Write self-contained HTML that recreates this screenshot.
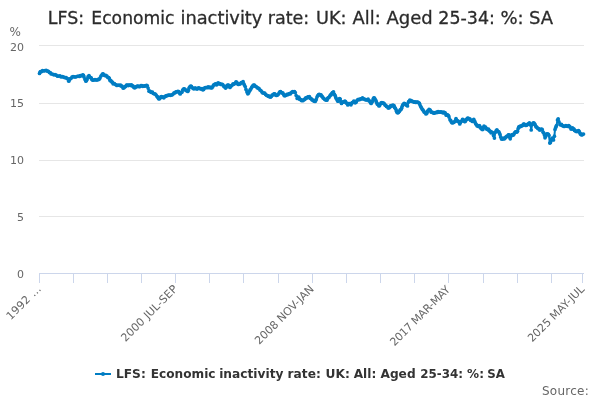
<!DOCTYPE html>
<html lang="en"><head><meta charset="utf-8"><title>LFS: Economic inactivity rate: UK: All: Aged 25-34: %: SA</title>
<style>
html,body{margin:0;padding:0;background:#fff;}
body{width:600px;height:400px;overflow:hidden;font-family:"DejaVu Sans","Liberation Sans",sans-serif;}
svg{display:block;font-family:"DejaVu Sans","Liberation Sans",sans-serif;}
.ax text{font-size:11px;fill:#666666;}
</style></head><body>
<svg width="600" height="400" viewBox="0 0 600 400">
<rect x="0" y="0" width="600" height="400" fill="#FFFFFF"/>
<g><path d="M 39.0 45.5 L 584.0 45.5" stroke="#E6E6E6" stroke-width="1" fill="none"/><path d="M 39.0 103.5 L 584.0 103.5" stroke="#E6E6E6" stroke-width="1" fill="none"/><path d="M 39.0 160.5 L 584.0 160.5" stroke="#E6E6E6" stroke-width="1" fill="none"/><path d="M 39.0 216.5 L 584.0 216.5" stroke="#E6E6E6" stroke-width="1" fill="none"/></g>
<path d="M 39 273.5 L 584 273.5" stroke="#CCD6EB" stroke-width="1" fill="none"/>
<g><path d="M 39.5 273 L 39.5 283" stroke="#CCD6EB" stroke-width="1" fill="none"/><path d="M 73.5 273 L 73.5 283" stroke="#CCD6EB" stroke-width="1" fill="none"/><path d="M 107.5 273 L 107.5 283" stroke="#CCD6EB" stroke-width="1" fill="none"/><path d="M 141.5 273 L 141.5 283" stroke="#CCD6EB" stroke-width="1" fill="none"/><path d="M 175.5 273 L 175.5 283" stroke="#CCD6EB" stroke-width="1" fill="none"/><path d="M 209.5 273 L 209.5 283" stroke="#CCD6EB" stroke-width="1" fill="none"/><path d="M 243.5 273 L 243.5 283" stroke="#CCD6EB" stroke-width="1" fill="none"/><path d="M 278.5 273 L 278.5 283" stroke="#CCD6EB" stroke-width="1" fill="none"/><path d="M 312.5 273 L 312.5 283" stroke="#CCD6EB" stroke-width="1" fill="none"/><path d="M 346.5 273 L 346.5 283" stroke="#CCD6EB" stroke-width="1" fill="none"/><path d="M 380.5 273 L 380.5 283" stroke="#CCD6EB" stroke-width="1" fill="none"/><path d="M 414.5 273 L 414.5 283" stroke="#CCD6EB" stroke-width="1" fill="none"/><path d="M 448.5 273 L 448.5 283" stroke="#CCD6EB" stroke-width="1" fill="none"/><path d="M 483.5 273 L 483.5 283" stroke="#CCD6EB" stroke-width="1" fill="none"/><path d="M 517.5 273 L 517.5 283" stroke="#CCD6EB" stroke-width="1" fill="none"/><path d="M 551.5 273 L 551.5 283" stroke="#CCD6EB" stroke-width="1" fill="none"/><path d="M 582.5 273 L 582.5 283" stroke="#CCD6EB" stroke-width="1" fill="none"/></g>
<g fill="none" stroke="#007DC3" stroke-width="2" stroke-linejoin="round" stroke-linecap="round"><path d="M 39.5 73.4 L 40.1 72.1 L 40.6 71.5 L 41.6 71.6 L 42.5 70.6 L 43.8 71.0 L 45.0 70.6 L 46.2 70.4 L 47.5 71.2 L 48.4 71.3 L 49.4 72.5 L 50.3 72.7 L 51.2 74.0 L 52.5 74.0 L 53.8 74.8 L 55.0 74.5 L 56.2 75.2 L 57.5 76.2 L 58.8 76.0 L 60.0 75.9 L 61.2 76.9 L 62.5 76.5 L 63.8 77.2 L 65.0 77.7 L 66.2 77.5 L 67.0 78.5 L 67.8 78.8 L 68.8 81.2 L 69.4 79.5 L 70.0 78.8 L 70.9 78.5 L 71.9 77.2 L 73.1 76.5 L 74.4 76.9 L 75.6 77.0 L 76.9 76.5 L 78.1 76.0 L 79.4 76.5 L 80.3 75.5 L 81.2 75.6 L 82.0 75.7 L 82.8 74.8 L 83.4 75.3 L 84.0 76.9 L 85.0 79.4 L 85.9 81.2 L 86.6 80.3 L 87.2 78.8 L 88.1 76.6 L 89.0 75.6 L 89.8 77.1 L 90.6 77.5 L 91.2 77.9 L 91.9 79.4 L 92.8 80.2 L 93.8 80.0 L 95.0 79.7 L 96.2 80.0 L 97.2 80.0 L 98.1 79.4 L 99.1 79.3 L 100.0 78.1 L 100.9 76.0 L 101.9 75.0 L 102.5 74.0 L 103.1 73.8 L 104.1 75.2 L 105.0 75.6 L 105.9 75.4 L 106.9 76.2 L 107.8 77.4 L 108.8 77.5 L 109.4 78.7 L 110.0 80.6 L 110.9 80.7 L 111.9 81.9 L 112.5 82.3 L 113.1 83.8 L 114.4 83.6 L 115.6 84.6 L 116.9 85.4 L 118.1 85.0 L 119.4 85.3 L 120.6 85.0 L 121.2 86.0 L 121.9 86.2 L 122.5 86.8 L 123.1 88.1 L 123.9 87.8 L 124.8 86.9 L 125.6 86.3 L 126.5 85.0 L 127.3 85.0 L 128.1 85.6 L 128.9 85.0 L 129.6 85.0 L 130.6 85.4 L 131.5 84.8 L 132.3 85.9 L 133.1 86.0 L 133.9 87.4 L 134.8 87.8 L 135.5 86.8 L 136.2 86.9 L 137.2 86.2 L 138.1 86.2 L 139.1 86.7 L 140.0 86.5 L 140.9 85.7 L 141.9 85.6 L 142.8 86.3 L 143.8 86.2 L 144.7 85.8 L 145.6 86.0 L 146.4 85.3 L 147.2 85.6 L 148.1 88.1 L 149.0 91.2 L 149.8 91.0 L 150.6 91.9 L 151.6 92.4 L 152.5 92.2 L 153.4 93.5 L 154.4 93.8 L 155.3 94.0 L 156.2 95.0 L 157.0 96.5 L 157.8 96.9 L 158.4 98.3 L 159.0 99.0 L 159.8 98.5 L 160.6 97.2 L 161.4 96.7 L 162.2 97.2 L 163.0 97.0 L 163.8 97.8 L 164.7 96.7 L 165.6 96.2 L 166.6 95.6 L 167.5 95.6 L 168.4 95.0 L 169.4 95.0 L 170.3 95.3 L 171.2 95.0 L 172.2 94.8 L 173.1 94.0 L 174.1 92.8 L 175.0 92.8 L 175.9 91.8 L 176.9 91.9 L 177.8 91.3 L 178.8 91.5 L 179.5 93.1 L 180.2 94.0 L 181.1 92.6 L 181.9 92.2 L 182.7 90.1 L 183.5 89.0 L 184.2 88.8 L 185.0 89.4 L 185.8 90.3 L 186.5 90.6 L 187.1 90.7 L 187.8 91.5 L 188.4 90.2 L 189.0 88.1 L 189.8 86.8 L 190.6 86.2 L 191.4 86.3 L 192.2 87.5 L 193.1 88.5 L 194.0 88.8 L 194.8 88.1 L 195.6 88.1 L 196.6 89.0 L 197.5 88.8 L 198.4 87.9 L 199.4 88.1 L 200.3 88.8 L 201.2 88.8 L 202.0 88.7 L 202.8 89.8 L 203.6 89.5 L 204.4 88.1 L 205.3 87.5 L 206.2 87.5 L 207.2 87.7 L 208.1 86.9 L 209.1 87.6 L 210.0 87.2 L 210.9 87.8 L 211.9 87.8 L 212.7 86.7 L 213.5 85.0 L 214.2 84.8 L 215.0 84.0 L 215.8 83.8 L 216.5 84.8 L 217.3 84.3 L 218.1 82.8 L 218.9 83.5 L 219.8 83.5 L 220.6 84.3 L 221.5 84.4 L 222.3 84.3 L 223.1 85.0 L 223.9 86.5 L 224.8 86.9 L 225.6 88.1 L 226.2 87.2 L 226.9 85.6 L 227.7 85.0 L 228.5 85.0 L 229.2 86.6 L 230.0 87.5 L 230.8 86.2 L 231.5 85.6 L 232.3 85.0 L 233.1 83.8 L 233.9 84.2 L 234.8 83.5 L 235.4 83.2 L 236.0 81.9 L 236.8 82.3 L 237.5 83.8 L 238.4 84.4 L 239.4 84.0 L 240.3 83.8 L 241.2 82.5 L 242.2 82.5 L 243.1 81.5 L 243.8 83.8 L 244.4 85.0 L 245.2 86.6 L 246.0 89.4 L 246.9 91.9 L 247.8 93.8 L 248.6 93.0 L 249.4 91.2 L 250.2 89.7 L 251.0 88.8 L 251.8 87.2 L 252.5 86.2 L 253.4 85.1 L 254.4 85.0 L 255.3 86.3 L 256.2 86.5 L 257.2 87.7 L 258.1 88.1 L 259.1 88.7 L 260.0 90.0 L 260.9 90.6 L 261.9 91.9 L 262.8 93.0 L 263.8 93.1 L 264.7 93.2 L 265.6 94.4 L 266.6 95.3 L 267.5 95.6 L 268.4 96.3 L 269.4 96.2 L 270.0 96.9 L 270.6 96.9 L 271.4 96.3 L 272.2 95.0 L 273.1 94.7 L 274.0 93.8 L 274.8 93.8 L 275.6 95.0 L 276.4 95.5 L 277.2 95.2 L 278.1 94.5 L 279.0 93.1 L 279.8 91.8 L 280.6 91.5 L 281.4 92.7 L 282.2 92.8 L 283.0 93.2 L 283.8 94.8 L 284.4 95.7 L 285.0 95.6 L 285.9 95.3 L 286.9 94.4 L 287.7 94.7 L 288.5 94.0 L 289.4 93.5 L 290.2 94.0 L 291.1 92.8 L 291.9 92.2 L 292.8 91.5 L 293.8 91.9 L 294.5 91.6 L 295.2 92.5 L 296.2 95.6 L 297.2 98.5 L 298.0 97.3 L 298.8 97.2 L 299.4 98.9 L 300.0 99.4 L 300.8 99.5 L 301.5 100.6 L 302.3 100.3 L 303.1 100.6 L 303.9 99.5 L 304.8 99.4 L 305.5 98.0 L 306.2 97.8 L 307.0 97.9 L 307.8 96.9 L 308.6 97.0 L 309.4 96.5 L 310.0 98.0 L 310.6 98.5 L 311.4 98.9 L 312.2 100.0 L 313.0 100.2 L 313.8 101.0 L 314.4 100.9 L 315.0 101.5 L 315.6 100.8 L 316.2 99.4 L 317.0 97.0 L 317.8 95.6 L 318.6 94.5 L 319.4 94.4 L 320.2 94.9 L 321.0 94.8 L 321.8 96.2 L 322.5 96.9 L 323.2 98.0 L 324.0 98.5 L 324.8 99.5 L 325.6 99.8 L 326.2 99.7 L 326.9 100.2 L 327.5 98.5 L 328.1 97.8 L 328.9 97.4 L 329.8 96.0 L 330.5 94.8 L 331.2 94.8 L 331.9 93.3 L 332.5 92.5 L 333.5 91.9 L 334.4 94.4 L 335.0 95.3 L 335.6 96.9 L 336.2 98.5 L 336.9 99.4 L 337.8 101.2 L 338.4 100.9 L 339.0 99.4 L 339.6 98.6 L 340.2 99.0 L 340.9 101.8 L 341.5 103.5 L 342.3 102.3 L 343.1 101.9 L 343.9 102.1 L 344.8 101.2 L 345.5 101.5 L 346.2 102.8 L 347.0 103.5 L 347.8 105.0 L 348.6 103.7 L 349.4 103.5 L 350.2 103.8 L 351.0 104.8 L 351.6 103.3 L 352.2 102.5 L 353.0 102.4 L 353.8 101.2 L 354.5 101.7 L 355.2 102.8 L 356.1 102.2 L 356.9 100.6 L 357.8 99.7 L 358.8 99.4 L 359.7 99.6 L 360.6 98.8 L 361.6 98.8 L 362.5 97.8 L 363.4 98.9 L 364.4 99.0 L 365.3 99.7 L 366.2 99.8 L 367.2 99.9 L 368.1 99.0 L 368.9 100.7 L 369.8 101.2 L 370.5 102.7 L 371.2 103.5 L 371.9 102.0 L 372.5 101.2 L 373.1 99.0 L 373.8 97.8 L 374.5 98.0 L 375.2 99.4 L 375.9 100.5 L 376.5 102.2 L 377.1 103.7 L 377.8 104.4 L 378.4 104.8 L 379.0 106.0 L 379.6 105.5 L 380.2 104.0 L 381.1 102.9 L 381.9 102.5 L 382.7 103.2 L 383.5 103.1 L 384.2 103.7 L 385.0 105.0 L 385.8 105.4 L 386.5 106.5 L 387.3 106.6 L 388.1 107.8 L 388.9 108.0 L 389.8 107.2 L 390.5 105.9 L 391.2 105.6 L 392.0 105.9 L 392.8 105.0 L 393.4 105.7 L 394.0 105.6 L 394.6 107.4 L 395.2 108.1 L 395.9 109.3 L 396.5 111.2 L 397.1 112.5 L 397.8 112.8 L 398.6 112.3 L 399.4 111.2 L 400.2 109.8 L 401.0 109.4 L 401.6 108.2 L 402.2 106.2 L 402.9 104.8 L 403.5 104.0 L 404.2 103.3 L 405.0 103.8 L 405.8 104.0 L 406.5 105.2 L 407.5 106.0 L 408.5 101.9 L 409.1 101.4 L 409.8 100.2 L 410.5 101.0 L 411.2 100.6 L 412.2 101.4 L 413.1 101.5 L 414.1 102.2 L 415.0 101.9 L 415.9 102.4 L 416.9 102.2 L 417.8 102.2 L 418.8 102.8 L 419.4 103.3 L 420.0 105.0 L 420.8 106.7 L 421.5 107.8 L 422.3 109.3 L 423.1 110.2 L 423.9 111.7 L 424.8 112.5 L 425.4 112.7 L 426.0 114.0 L 426.8 113.2 L 427.5 111.2 L 428.2 110.9 L 429.0 109.4 L 429.6 110.2 L 430.2 110.0 L 431.2 112.2 L 432.2 112.0 L 433.1 112.8 L 434.1 113.2 L 435.0 112.5 L 435.9 112.7 L 436.9 112.2 L 437.5 112.4 L 438.1 111.5 L 439.1 112.2 L 440.0 112.2 L 440.9 111.9 L 441.9 112.2 L 442.8 112.8 L 443.8 112.2 L 444.5 113.0 L 445.2 112.8 L 446.2 115.2 L 447.0 114.7 L 447.8 115.2 L 448.4 115.5 L 449.0 116.9 L 450.0 119.8 L 450.8 120.5 L 451.5 122.2 L 452.3 122.9 L 453.1 122.5 L 453.9 122.3 L 454.8 121.5 L 455.4 120.5 L 456.0 118.5 L 456.8 120.4 L 457.5 121.2 L 458.1 121.0 L 458.8 121.9 L 459.8 124.0 L 460.4 122.4 L 461.0 121.5 L 461.8 121.0 L 462.5 119.4 L 463.2 119.7 L 464.0 120.6 L 464.6 121.6 L 465.2 121.5 L 465.9 120.1 L 466.5 119.4 L 467.3 118.4 L 468.1 118.1 L 468.9 118.8 L 469.8 118.8 L 470.5 120.2 L 471.2 120.6 L 471.9 120.5 L 472.5 121.5 L 473.1 120.1 L 473.8 119.4 L 474.4 121.0 L 475.0 121.9 L 475.6 123.5 L 476.2 124.4 L 477.0 125.7 L 477.8 126.0 L 478.4 126.4 L 479.0 125.6 L 479.6 125.9 L 480.2 127.2 L 480.9 128.2 L 481.5 128.5 L 482.1 129.5 L 482.8 129.4 L 483.4 127.3 L 484.0 126.2 L 484.8 127.3 L 485.6 127.2 L 486.2 128.7 L 486.9 129.0 L 487.7 129.6 L 488.5 129.0 L 489.1 130.5 L 489.8 131.2 L 490.4 131.4 L 491.0 132.8 L 491.8 132.1 L 492.5 132.5 L 493.5 135.6 L 494.4 138.1 L 495.2 132.5 L 496.1 130.8 L 496.9 129.8 L 497.5 131.0 L 498.1 131.5 L 498.8 131.8 L 499.4 133.1 L 500.0 134.4 L 500.6 136.9 L 501.5 139.0 L 502.3 139.1 L 503.1 138.1 L 503.9 138.9 L 504.8 138.5 L 505.5 137.3 L 506.2 136.9 L 507.0 136.0 L 507.8 136.2 L 508.4 134.9 L 509.0 134.8 L 509.6 137.1 L 510.2 138.8 L 510.9 136.3 L 511.5 135.0 L 512.3 134.6 L 513.1 135.2 L 513.9 134.2 L 514.8 132.5 L 515.5 131.8 L 516.2 131.9 L 516.9 132.1 L 517.5 131.2 L 518.1 128.7 L 518.8 126.9 L 519.5 126.9 L 520.2 126.2 L 521.1 126.3 L 521.9 125.6 L 522.7 125.4 L 523.5 124.0 L 524.2 124.0 L 525.0 124.8 L 525.8 125.4 L 526.5 125.0 L 527.1 124.8 L 527.8 124.0 L 528.6 123.9 L 529.4 122.8 L 530.0 124.2 L 530.6 125.0 L 531.2 130.0 L 532.2 124.4 L 533.0 123.0 L 533.8 122.8 L 534.4 123.9 L 535.0 124.4 L 535.6 126.0 L 536.2 126.9 L 537.0 127.3 L 537.8 128.5 L 538.6 128.6 L 539.4 129.8 L 540.2 129.9 L 541.0 129.0 L 541.6 129.5 L 542.2 129.4 L 543.1 132.2 L 543.8 133.1 L 544.4 135.0 L 545.0 137.8 L 545.6 136.6 L 546.2 134.4 L 547.0 133.8 L 547.8 134.0 L 548.4 134.3 L 549.0 135.6 L 549.8 143.1 L 550.4 142.4 L 551.0 140.6 L 551.6 139.0 L 552.2 138.1 L 552.9 139.6 L 553.5 140.0 L 554.4 136.2 L 555.0 129.4 L 555.8 127.2 L 556.5 125.6 L 557.5 120.0 L 558.2 118.8 L 559.0 121.9 L 560.0 124.4 L 560.8 124.9 L 561.5 124.4 L 562.3 125.5 L 563.1 126.0 L 564.1 126.5 L 565.0 126.0 L 565.9 125.6 L 566.9 126.2 L 567.8 126.3 L 568.8 125.6 L 569.4 126.6 L 570.0 126.9 L 571.0 129.0 L 571.8 128.9 L 572.5 127.8 L 573.2 128.9 L 574.0 129.0 L 574.6 130.4 L 575.2 130.6 L 576.1 131.4 L 576.9 131.5 L 577.7 131.4 L 578.5 130.6 L 579.1 131.3 L 579.8 132.8 L 580.4 133.9 L 581.0 134.4 L 581.8 134.9 L 582.5 134.4 L 583.5 134.0"/></g>
<g fill="#007DC3"><circle cx="39.5" cy="73.4" r="1.85"/><circle cx="40.1" cy="72.1" r="1.85"/><circle cx="40.6" cy="71.5" r="1.85"/><circle cx="41.6" cy="71.6" r="1.85"/><circle cx="42.5" cy="70.6" r="1.85"/><circle cx="43.8" cy="71.0" r="1.85"/><circle cx="45.0" cy="70.6" r="1.85"/><circle cx="46.2" cy="70.4" r="1.85"/><circle cx="47.5" cy="71.2" r="1.85"/><circle cx="48.4" cy="71.3" r="1.85"/><circle cx="49.4" cy="72.5" r="1.85"/><circle cx="50.3" cy="72.7" r="1.85"/><circle cx="51.2" cy="74.0" r="1.85"/><circle cx="52.5" cy="74.0" r="1.85"/><circle cx="53.8" cy="74.8" r="1.85"/><circle cx="55.0" cy="74.5" r="1.85"/><circle cx="56.2" cy="75.2" r="1.85"/><circle cx="57.5" cy="76.2" r="1.85"/><circle cx="58.8" cy="76.0" r="1.85"/><circle cx="60.0" cy="75.9" r="1.85"/><circle cx="61.2" cy="76.9" r="1.85"/><circle cx="62.5" cy="76.5" r="1.85"/><circle cx="63.8" cy="77.2" r="1.85"/><circle cx="65.0" cy="77.7" r="1.85"/><circle cx="66.2" cy="77.5" r="1.85"/><circle cx="67.0" cy="78.5" r="1.85"/><circle cx="67.8" cy="78.8" r="1.85"/><circle cx="68.8" cy="81.2" r="1.85"/><circle cx="69.4" cy="79.5" r="1.85"/><circle cx="70.0" cy="78.8" r="1.85"/><circle cx="70.9" cy="78.5" r="1.85"/><circle cx="71.9" cy="77.2" r="1.85"/><circle cx="73.1" cy="76.5" r="1.85"/><circle cx="74.4" cy="76.9" r="1.85"/><circle cx="75.6" cy="77.0" r="1.85"/><circle cx="76.9" cy="76.5" r="1.85"/><circle cx="78.1" cy="76.0" r="1.85"/><circle cx="79.4" cy="76.5" r="1.85"/><circle cx="80.3" cy="75.5" r="1.85"/><circle cx="81.2" cy="75.6" r="1.85"/><circle cx="82.0" cy="75.7" r="1.85"/><circle cx="82.8" cy="74.8" r="1.85"/><circle cx="83.4" cy="75.3" r="1.85"/><circle cx="84.0" cy="76.9" r="1.85"/><circle cx="85.0" cy="79.4" r="1.85"/><circle cx="85.9" cy="81.2" r="1.85"/><circle cx="86.6" cy="80.3" r="1.85"/><circle cx="87.2" cy="78.8" r="1.85"/><circle cx="88.1" cy="76.6" r="1.85"/><circle cx="89.0" cy="75.6" r="1.85"/><circle cx="89.8" cy="77.1" r="1.85"/><circle cx="90.6" cy="77.5" r="1.85"/><circle cx="91.2" cy="77.9" r="1.85"/><circle cx="91.9" cy="79.4" r="1.85"/><circle cx="92.8" cy="80.2" r="1.85"/><circle cx="93.8" cy="80.0" r="1.85"/><circle cx="95.0" cy="79.7" r="1.85"/><circle cx="96.2" cy="80.0" r="1.85"/><circle cx="97.2" cy="80.0" r="1.85"/><circle cx="98.1" cy="79.4" r="1.85"/><circle cx="99.1" cy="79.3" r="1.85"/><circle cx="100.0" cy="78.1" r="1.85"/><circle cx="100.9" cy="76.0" r="1.85"/><circle cx="101.9" cy="75.0" r="1.85"/><circle cx="102.5" cy="74.0" r="1.85"/><circle cx="103.1" cy="73.8" r="1.85"/><circle cx="104.1" cy="75.2" r="1.85"/><circle cx="105.0" cy="75.6" r="1.85"/><circle cx="105.9" cy="75.4" r="1.85"/><circle cx="106.9" cy="76.2" r="1.85"/><circle cx="107.8" cy="77.4" r="1.85"/><circle cx="108.8" cy="77.5" r="1.85"/><circle cx="109.4" cy="78.7" r="1.85"/><circle cx="110.0" cy="80.6" r="1.85"/><circle cx="110.9" cy="80.7" r="1.85"/><circle cx="111.9" cy="81.9" r="1.85"/><circle cx="112.5" cy="82.3" r="1.85"/><circle cx="113.1" cy="83.8" r="1.85"/><circle cx="114.4" cy="83.6" r="1.85"/><circle cx="115.6" cy="84.6" r="1.85"/><circle cx="116.9" cy="85.4" r="1.85"/><circle cx="118.1" cy="85.0" r="1.85"/><circle cx="119.4" cy="85.3" r="1.85"/><circle cx="120.6" cy="85.0" r="1.85"/><circle cx="121.2" cy="86.0" r="1.85"/><circle cx="121.9" cy="86.2" r="1.85"/><circle cx="122.5" cy="86.8" r="1.85"/><circle cx="123.1" cy="88.1" r="1.85"/><circle cx="123.9" cy="87.8" r="1.85"/><circle cx="124.8" cy="86.9" r="1.85"/><circle cx="125.6" cy="86.3" r="1.85"/><circle cx="126.5" cy="85.0" r="1.85"/><circle cx="127.3" cy="85.0" r="1.85"/><circle cx="128.1" cy="85.6" r="1.85"/><circle cx="128.9" cy="85.0" r="1.85"/><circle cx="129.6" cy="85.0" r="1.85"/><circle cx="130.6" cy="85.4" r="1.85"/><circle cx="131.5" cy="84.8" r="1.85"/><circle cx="132.3" cy="85.9" r="1.85"/><circle cx="133.1" cy="86.0" r="1.85"/><circle cx="133.9" cy="87.4" r="1.85"/><circle cx="134.8" cy="87.8" r="1.85"/><circle cx="135.5" cy="86.8" r="1.85"/><circle cx="136.2" cy="86.9" r="1.85"/><circle cx="137.2" cy="86.2" r="1.85"/><circle cx="138.1" cy="86.2" r="1.85"/><circle cx="139.1" cy="86.7" r="1.85"/><circle cx="140.0" cy="86.5" r="1.85"/><circle cx="140.9" cy="85.7" r="1.85"/><circle cx="141.9" cy="85.6" r="1.85"/><circle cx="142.8" cy="86.3" r="1.85"/><circle cx="143.8" cy="86.2" r="1.85"/><circle cx="144.7" cy="85.8" r="1.85"/><circle cx="145.6" cy="86.0" r="1.85"/><circle cx="146.4" cy="85.3" r="1.85"/><circle cx="147.2" cy="85.6" r="1.85"/><circle cx="148.1" cy="88.1" r="1.85"/><circle cx="149.0" cy="91.2" r="1.85"/><circle cx="149.8" cy="91.0" r="1.85"/><circle cx="150.6" cy="91.9" r="1.85"/><circle cx="151.6" cy="92.4" r="1.85"/><circle cx="152.5" cy="92.2" r="1.85"/><circle cx="153.4" cy="93.5" r="1.85"/><circle cx="154.4" cy="93.8" r="1.85"/><circle cx="155.3" cy="94.0" r="1.85"/><circle cx="156.2" cy="95.0" r="1.85"/><circle cx="157.0" cy="96.5" r="1.85"/><circle cx="157.8" cy="96.9" r="1.85"/><circle cx="158.4" cy="98.3" r="1.85"/><circle cx="159.0" cy="99.0" r="1.85"/><circle cx="159.8" cy="98.5" r="1.85"/><circle cx="160.6" cy="97.2" r="1.85"/><circle cx="161.4" cy="96.7" r="1.85"/><circle cx="162.2" cy="97.2" r="1.85"/><circle cx="163.0" cy="97.0" r="1.85"/><circle cx="163.8" cy="97.8" r="1.85"/><circle cx="164.7" cy="96.7" r="1.85"/><circle cx="165.6" cy="96.2" r="1.85"/><circle cx="166.6" cy="95.6" r="1.85"/><circle cx="167.5" cy="95.6" r="1.85"/><circle cx="168.4" cy="95.0" r="1.85"/><circle cx="169.4" cy="95.0" r="1.85"/><circle cx="170.3" cy="95.3" r="1.85"/><circle cx="171.2" cy="95.0" r="1.85"/><circle cx="172.2" cy="94.8" r="1.85"/><circle cx="173.1" cy="94.0" r="1.85"/><circle cx="174.1" cy="92.8" r="1.85"/><circle cx="175.0" cy="92.8" r="1.85"/><circle cx="175.9" cy="91.8" r="1.85"/><circle cx="176.9" cy="91.9" r="1.85"/><circle cx="177.8" cy="91.3" r="1.85"/><circle cx="178.8" cy="91.5" r="1.85"/><circle cx="179.5" cy="93.1" r="1.85"/><circle cx="180.2" cy="94.0" r="1.85"/><circle cx="181.1" cy="92.6" r="1.85"/><circle cx="181.9" cy="92.2" r="1.85"/><circle cx="182.7" cy="90.1" r="1.85"/><circle cx="183.5" cy="89.0" r="1.85"/><circle cx="184.2" cy="88.8" r="1.85"/><circle cx="185.0" cy="89.4" r="1.85"/><circle cx="185.8" cy="90.3" r="1.85"/><circle cx="186.5" cy="90.6" r="1.85"/><circle cx="187.1" cy="90.7" r="1.85"/><circle cx="187.8" cy="91.5" r="1.85"/><circle cx="188.4" cy="90.2" r="1.85"/><circle cx="189.0" cy="88.1" r="1.85"/><circle cx="189.8" cy="86.8" r="1.85"/><circle cx="190.6" cy="86.2" r="1.85"/><circle cx="191.4" cy="86.3" r="1.85"/><circle cx="192.2" cy="87.5" r="1.85"/><circle cx="193.1" cy="88.5" r="1.85"/><circle cx="194.0" cy="88.8" r="1.85"/><circle cx="194.8" cy="88.1" r="1.85"/><circle cx="195.6" cy="88.1" r="1.85"/><circle cx="196.6" cy="89.0" r="1.85"/><circle cx="197.5" cy="88.8" r="1.85"/><circle cx="198.4" cy="87.9" r="1.85"/><circle cx="199.4" cy="88.1" r="1.85"/><circle cx="200.3" cy="88.8" r="1.85"/><circle cx="201.2" cy="88.8" r="1.85"/><circle cx="202.0" cy="88.7" r="1.85"/><circle cx="202.8" cy="89.8" r="1.85"/><circle cx="203.6" cy="89.5" r="1.85"/><circle cx="204.4" cy="88.1" r="1.85"/><circle cx="205.3" cy="87.5" r="1.85"/><circle cx="206.2" cy="87.5" r="1.85"/><circle cx="207.2" cy="87.7" r="1.85"/><circle cx="208.1" cy="86.9" r="1.85"/><circle cx="209.1" cy="87.6" r="1.85"/><circle cx="210.0" cy="87.2" r="1.85"/><circle cx="210.9" cy="87.8" r="1.85"/><circle cx="211.9" cy="87.8" r="1.85"/><circle cx="212.7" cy="86.7" r="1.85"/><circle cx="213.5" cy="85.0" r="1.85"/><circle cx="214.2" cy="84.8" r="1.85"/><circle cx="215.0" cy="84.0" r="1.85"/><circle cx="215.8" cy="83.8" r="1.85"/><circle cx="216.5" cy="84.8" r="1.85"/><circle cx="217.3" cy="84.3" r="1.85"/><circle cx="218.1" cy="82.8" r="1.85"/><circle cx="218.9" cy="83.5" r="1.85"/><circle cx="219.8" cy="83.5" r="1.85"/><circle cx="220.6" cy="84.3" r="1.85"/><circle cx="221.5" cy="84.4" r="1.85"/><circle cx="222.3" cy="84.3" r="1.85"/><circle cx="223.1" cy="85.0" r="1.85"/><circle cx="223.9" cy="86.5" r="1.85"/><circle cx="224.8" cy="86.9" r="1.85"/><circle cx="225.6" cy="88.1" r="1.85"/><circle cx="226.2" cy="87.2" r="1.85"/><circle cx="226.9" cy="85.6" r="1.85"/><circle cx="227.7" cy="85.0" r="1.85"/><circle cx="228.5" cy="85.0" r="1.85"/><circle cx="229.2" cy="86.6" r="1.85"/><circle cx="230.0" cy="87.5" r="1.85"/><circle cx="230.8" cy="86.2" r="1.85"/><circle cx="231.5" cy="85.6" r="1.85"/><circle cx="232.3" cy="85.0" r="1.85"/><circle cx="233.1" cy="83.8" r="1.85"/><circle cx="233.9" cy="84.2" r="1.85"/><circle cx="234.8" cy="83.5" r="1.85"/><circle cx="235.4" cy="83.2" r="1.85"/><circle cx="236.0" cy="81.9" r="1.85"/><circle cx="236.8" cy="82.3" r="1.85"/><circle cx="237.5" cy="83.8" r="1.85"/><circle cx="238.4" cy="84.4" r="1.85"/><circle cx="239.4" cy="84.0" r="1.85"/><circle cx="240.3" cy="83.8" r="1.85"/><circle cx="241.2" cy="82.5" r="1.85"/><circle cx="242.2" cy="82.5" r="1.85"/><circle cx="243.1" cy="81.5" r="1.85"/><circle cx="243.8" cy="83.8" r="1.85"/><circle cx="244.4" cy="85.0" r="1.85"/><circle cx="245.2" cy="86.6" r="1.85"/><circle cx="246.0" cy="89.4" r="1.85"/><circle cx="246.9" cy="91.9" r="1.85"/><circle cx="247.8" cy="93.8" r="1.85"/><circle cx="248.6" cy="93.0" r="1.85"/><circle cx="249.4" cy="91.2" r="1.85"/><circle cx="250.2" cy="89.7" r="1.85"/><circle cx="251.0" cy="88.8" r="1.85"/><circle cx="251.8" cy="87.2" r="1.85"/><circle cx="252.5" cy="86.2" r="1.85"/><circle cx="253.4" cy="85.1" r="1.85"/><circle cx="254.4" cy="85.0" r="1.85"/><circle cx="255.3" cy="86.3" r="1.85"/><circle cx="256.2" cy="86.5" r="1.85"/><circle cx="257.2" cy="87.7" r="1.85"/><circle cx="258.1" cy="88.1" r="1.85"/><circle cx="259.1" cy="88.7" r="1.85"/><circle cx="260.0" cy="90.0" r="1.85"/><circle cx="260.9" cy="90.6" r="1.85"/><circle cx="261.9" cy="91.9" r="1.85"/><circle cx="262.8" cy="93.0" r="1.85"/><circle cx="263.8" cy="93.1" r="1.85"/><circle cx="264.7" cy="93.2" r="1.85"/><circle cx="265.6" cy="94.4" r="1.85"/><circle cx="266.6" cy="95.3" r="1.85"/><circle cx="267.5" cy="95.6" r="1.85"/><circle cx="268.4" cy="96.3" r="1.85"/><circle cx="269.4" cy="96.2" r="1.85"/><circle cx="270.0" cy="96.9" r="1.85"/><circle cx="270.6" cy="96.9" r="1.85"/><circle cx="271.4" cy="96.3" r="1.85"/><circle cx="272.2" cy="95.0" r="1.85"/><circle cx="273.1" cy="94.7" r="1.85"/><circle cx="274.0" cy="93.8" r="1.85"/><circle cx="274.8" cy="93.8" r="1.85"/><circle cx="275.6" cy="95.0" r="1.85"/><circle cx="276.4" cy="95.5" r="1.85"/><circle cx="277.2" cy="95.2" r="1.85"/><circle cx="278.1" cy="94.5" r="1.85"/><circle cx="279.0" cy="93.1" r="1.85"/><circle cx="279.8" cy="91.8" r="1.85"/><circle cx="280.6" cy="91.5" r="1.85"/><circle cx="281.4" cy="92.7" r="1.85"/><circle cx="282.2" cy="92.8" r="1.85"/><circle cx="283.0" cy="93.2" r="1.85"/><circle cx="283.8" cy="94.8" r="1.85"/><circle cx="284.4" cy="95.7" r="1.85"/><circle cx="285.0" cy="95.6" r="1.85"/><circle cx="285.9" cy="95.3" r="1.85"/><circle cx="286.9" cy="94.4" r="1.85"/><circle cx="287.7" cy="94.7" r="1.85"/><circle cx="288.5" cy="94.0" r="1.85"/><circle cx="289.4" cy="93.5" r="1.85"/><circle cx="290.2" cy="94.0" r="1.85"/><circle cx="291.1" cy="92.8" r="1.85"/><circle cx="291.9" cy="92.2" r="1.85"/><circle cx="292.8" cy="91.5" r="1.85"/><circle cx="293.8" cy="91.9" r="1.85"/><circle cx="294.5" cy="91.6" r="1.85"/><circle cx="295.2" cy="92.5" r="1.85"/><circle cx="296.2" cy="95.6" r="1.85"/><circle cx="297.2" cy="98.5" r="1.85"/><circle cx="298.0" cy="97.3" r="1.85"/><circle cx="298.8" cy="97.2" r="1.85"/><circle cx="299.4" cy="98.9" r="1.85"/><circle cx="300.0" cy="99.4" r="1.85"/><circle cx="300.8" cy="99.5" r="1.85"/><circle cx="301.5" cy="100.6" r="1.85"/><circle cx="302.3" cy="100.3" r="1.85"/><circle cx="303.1" cy="100.6" r="1.85"/><circle cx="303.9" cy="99.5" r="1.85"/><circle cx="304.8" cy="99.4" r="1.85"/><circle cx="305.5" cy="98.0" r="1.85"/><circle cx="306.2" cy="97.8" r="1.85"/><circle cx="307.0" cy="97.9" r="1.85"/><circle cx="307.8" cy="96.9" r="1.85"/><circle cx="308.6" cy="97.0" r="1.85"/><circle cx="309.4" cy="96.5" r="1.85"/><circle cx="310.0" cy="98.0" r="1.85"/><circle cx="310.6" cy="98.5" r="1.85"/><circle cx="311.4" cy="98.9" r="1.85"/><circle cx="312.2" cy="100.0" r="1.85"/><circle cx="313.0" cy="100.2" r="1.85"/><circle cx="313.8" cy="101.0" r="1.85"/><circle cx="314.4" cy="100.9" r="1.85"/><circle cx="315.0" cy="101.5" r="1.85"/><circle cx="315.6" cy="100.8" r="1.85"/><circle cx="316.2" cy="99.4" r="1.85"/><circle cx="317.0" cy="97.0" r="1.85"/><circle cx="317.8" cy="95.6" r="1.85"/><circle cx="318.6" cy="94.5" r="1.85"/><circle cx="319.4" cy="94.4" r="1.85"/><circle cx="320.2" cy="94.9" r="1.85"/><circle cx="321.0" cy="94.8" r="1.85"/><circle cx="321.8" cy="96.2" r="1.85"/><circle cx="322.5" cy="96.9" r="1.85"/><circle cx="323.2" cy="98.0" r="1.85"/><circle cx="324.0" cy="98.5" r="1.85"/><circle cx="324.8" cy="99.5" r="1.85"/><circle cx="325.6" cy="99.8" r="1.85"/><circle cx="326.2" cy="99.7" r="1.85"/><circle cx="326.9" cy="100.2" r="1.85"/><circle cx="327.5" cy="98.5" r="1.85"/><circle cx="328.1" cy="97.8" r="1.85"/><circle cx="328.9" cy="97.4" r="1.85"/><circle cx="329.8" cy="96.0" r="1.85"/><circle cx="330.5" cy="94.8" r="1.85"/><circle cx="331.2" cy="94.8" r="1.85"/><circle cx="331.9" cy="93.3" r="1.85"/><circle cx="332.5" cy="92.5" r="1.85"/><circle cx="333.5" cy="91.9" r="1.85"/><circle cx="334.4" cy="94.4" r="1.85"/><circle cx="335.0" cy="95.3" r="1.85"/><circle cx="335.6" cy="96.9" r="1.85"/><circle cx="336.2" cy="98.5" r="1.85"/><circle cx="336.9" cy="99.4" r="1.85"/><circle cx="337.8" cy="101.2" r="1.85"/><circle cx="338.4" cy="100.9" r="1.85"/><circle cx="339.0" cy="99.4" r="1.85"/><circle cx="339.6" cy="98.6" r="1.85"/><circle cx="340.2" cy="99.0" r="1.85"/><circle cx="340.9" cy="101.8" r="1.85"/><circle cx="341.5" cy="103.5" r="1.85"/><circle cx="342.3" cy="102.3" r="1.85"/><circle cx="343.1" cy="101.9" r="1.85"/><circle cx="343.9" cy="102.1" r="1.85"/><circle cx="344.8" cy="101.2" r="1.85"/><circle cx="345.5" cy="101.5" r="1.85"/><circle cx="346.2" cy="102.8" r="1.85"/><circle cx="347.0" cy="103.5" r="1.85"/><circle cx="347.8" cy="105.0" r="1.85"/><circle cx="348.6" cy="103.7" r="1.85"/><circle cx="349.4" cy="103.5" r="1.85"/><circle cx="350.2" cy="103.8" r="1.85"/><circle cx="351.0" cy="104.8" r="1.85"/><circle cx="351.6" cy="103.3" r="1.85"/><circle cx="352.2" cy="102.5" r="1.85"/><circle cx="353.0" cy="102.4" r="1.85"/><circle cx="353.8" cy="101.2" r="1.85"/><circle cx="354.5" cy="101.7" r="1.85"/><circle cx="355.2" cy="102.8" r="1.85"/><circle cx="356.1" cy="102.2" r="1.85"/><circle cx="356.9" cy="100.6" r="1.85"/><circle cx="357.8" cy="99.7" r="1.85"/><circle cx="358.8" cy="99.4" r="1.85"/><circle cx="359.7" cy="99.6" r="1.85"/><circle cx="360.6" cy="98.8" r="1.85"/><circle cx="361.6" cy="98.8" r="1.85"/><circle cx="362.5" cy="97.8" r="1.85"/><circle cx="363.4" cy="98.9" r="1.85"/><circle cx="364.4" cy="99.0" r="1.85"/><circle cx="365.3" cy="99.7" r="1.85"/><circle cx="366.2" cy="99.8" r="1.85"/><circle cx="367.2" cy="99.9" r="1.85"/><circle cx="368.1" cy="99.0" r="1.85"/><circle cx="368.9" cy="100.7" r="1.85"/><circle cx="369.8" cy="101.2" r="1.85"/><circle cx="370.5" cy="102.7" r="1.85"/><circle cx="371.2" cy="103.5" r="1.85"/><circle cx="371.9" cy="102.0" r="1.85"/><circle cx="372.5" cy="101.2" r="1.85"/><circle cx="373.1" cy="99.0" r="1.85"/><circle cx="373.8" cy="97.8" r="1.85"/><circle cx="374.5" cy="98.0" r="1.85"/><circle cx="375.2" cy="99.4" r="1.85"/><circle cx="375.9" cy="100.5" r="1.85"/><circle cx="376.5" cy="102.2" r="1.85"/><circle cx="377.1" cy="103.7" r="1.85"/><circle cx="377.8" cy="104.4" r="1.85"/><circle cx="378.4" cy="104.8" r="1.85"/><circle cx="379.0" cy="106.0" r="1.85"/><circle cx="379.6" cy="105.5" r="1.85"/><circle cx="380.2" cy="104.0" r="1.85"/><circle cx="381.1" cy="102.9" r="1.85"/><circle cx="381.9" cy="102.5" r="1.85"/><circle cx="382.7" cy="103.2" r="1.85"/><circle cx="383.5" cy="103.1" r="1.85"/><circle cx="384.2" cy="103.7" r="1.85"/><circle cx="385.0" cy="105.0" r="1.85"/><circle cx="385.8" cy="105.4" r="1.85"/><circle cx="386.5" cy="106.5" r="1.85"/><circle cx="387.3" cy="106.6" r="1.85"/><circle cx="388.1" cy="107.8" r="1.85"/><circle cx="388.9" cy="108.0" r="1.85"/><circle cx="389.8" cy="107.2" r="1.85"/><circle cx="390.5" cy="105.9" r="1.85"/><circle cx="391.2" cy="105.6" r="1.85"/><circle cx="392.0" cy="105.9" r="1.85"/><circle cx="392.8" cy="105.0" r="1.85"/><circle cx="393.4" cy="105.7" r="1.85"/><circle cx="394.0" cy="105.6" r="1.85"/><circle cx="394.6" cy="107.4" r="1.85"/><circle cx="395.2" cy="108.1" r="1.85"/><circle cx="395.9" cy="109.3" r="1.85"/><circle cx="396.5" cy="111.2" r="1.85"/><circle cx="397.1" cy="112.5" r="1.85"/><circle cx="397.8" cy="112.8" r="1.85"/><circle cx="398.6" cy="112.3" r="1.85"/><circle cx="399.4" cy="111.2" r="1.85"/><circle cx="400.2" cy="109.8" r="1.85"/><circle cx="401.0" cy="109.4" r="1.85"/><circle cx="401.6" cy="108.2" r="1.85"/><circle cx="402.2" cy="106.2" r="1.85"/><circle cx="402.9" cy="104.8" r="1.85"/><circle cx="403.5" cy="104.0" r="1.85"/><circle cx="404.2" cy="103.3" r="1.85"/><circle cx="405.0" cy="103.8" r="1.85"/><circle cx="405.8" cy="104.0" r="1.85"/><circle cx="406.5" cy="105.2" r="1.85"/><circle cx="407.5" cy="106.0" r="1.85"/><circle cx="408.5" cy="101.9" r="1.85"/><circle cx="409.1" cy="101.4" r="1.85"/><circle cx="409.8" cy="100.2" r="1.85"/><circle cx="410.5" cy="101.0" r="1.85"/><circle cx="411.2" cy="100.6" r="1.85"/><circle cx="412.2" cy="101.4" r="1.85"/><circle cx="413.1" cy="101.5" r="1.85"/><circle cx="414.1" cy="102.2" r="1.85"/><circle cx="415.0" cy="101.9" r="1.85"/><circle cx="415.9" cy="102.4" r="1.85"/><circle cx="416.9" cy="102.2" r="1.85"/><circle cx="417.8" cy="102.2" r="1.85"/><circle cx="418.8" cy="102.8" r="1.85"/><circle cx="419.4" cy="103.3" r="1.85"/><circle cx="420.0" cy="105.0" r="1.85"/><circle cx="420.8" cy="106.7" r="1.85"/><circle cx="421.5" cy="107.8" r="1.85"/><circle cx="422.3" cy="109.3" r="1.85"/><circle cx="423.1" cy="110.2" r="1.85"/><circle cx="423.9" cy="111.7" r="1.85"/><circle cx="424.8" cy="112.5" r="1.85"/><circle cx="425.4" cy="112.7" r="1.85"/><circle cx="426.0" cy="114.0" r="1.85"/><circle cx="426.8" cy="113.2" r="1.85"/><circle cx="427.5" cy="111.2" r="1.85"/><circle cx="428.2" cy="110.9" r="1.85"/><circle cx="429.0" cy="109.4" r="1.85"/><circle cx="429.6" cy="110.2" r="1.85"/><circle cx="430.2" cy="110.0" r="1.85"/><circle cx="431.2" cy="112.2" r="1.85"/><circle cx="432.2" cy="112.0" r="1.85"/><circle cx="433.1" cy="112.8" r="1.85"/><circle cx="434.1" cy="113.2" r="1.85"/><circle cx="435.0" cy="112.5" r="1.85"/><circle cx="435.9" cy="112.7" r="1.85"/><circle cx="436.9" cy="112.2" r="1.85"/><circle cx="437.5" cy="112.4" r="1.85"/><circle cx="438.1" cy="111.5" r="1.85"/><circle cx="439.1" cy="112.2" r="1.85"/><circle cx="440.0" cy="112.2" r="1.85"/><circle cx="440.9" cy="111.9" r="1.85"/><circle cx="441.9" cy="112.2" r="1.85"/><circle cx="442.8" cy="112.8" r="1.85"/><circle cx="443.8" cy="112.2" r="1.85"/><circle cx="444.5" cy="113.0" r="1.85"/><circle cx="445.2" cy="112.8" r="1.85"/><circle cx="446.2" cy="115.2" r="1.85"/><circle cx="447.0" cy="114.7" r="1.85"/><circle cx="447.8" cy="115.2" r="1.85"/><circle cx="448.4" cy="115.5" r="1.85"/><circle cx="449.0" cy="116.9" r="1.85"/><circle cx="450.0" cy="119.8" r="1.85"/><circle cx="450.8" cy="120.5" r="1.85"/><circle cx="451.5" cy="122.2" r="1.85"/><circle cx="452.3" cy="122.9" r="1.85"/><circle cx="453.1" cy="122.5" r="1.85"/><circle cx="453.9" cy="122.3" r="1.85"/><circle cx="454.8" cy="121.5" r="1.85"/><circle cx="455.4" cy="120.5" r="1.85"/><circle cx="456.0" cy="118.5" r="1.85"/><circle cx="456.8" cy="120.4" r="1.85"/><circle cx="457.5" cy="121.2" r="1.85"/><circle cx="458.1" cy="121.0" r="1.85"/><circle cx="458.8" cy="121.9" r="1.85"/><circle cx="459.8" cy="124.0" r="1.85"/><circle cx="460.4" cy="122.4" r="1.85"/><circle cx="461.0" cy="121.5" r="1.85"/><circle cx="461.8" cy="121.0" r="1.85"/><circle cx="462.5" cy="119.4" r="1.85"/><circle cx="463.2" cy="119.7" r="1.85"/><circle cx="464.0" cy="120.6" r="1.85"/><circle cx="464.6" cy="121.6" r="1.85"/><circle cx="465.2" cy="121.5" r="1.85"/><circle cx="465.9" cy="120.1" r="1.85"/><circle cx="466.5" cy="119.4" r="1.85"/><circle cx="467.3" cy="118.4" r="1.85"/><circle cx="468.1" cy="118.1" r="1.85"/><circle cx="468.9" cy="118.8" r="1.85"/><circle cx="469.8" cy="118.8" r="1.85"/><circle cx="470.5" cy="120.2" r="1.85"/><circle cx="471.2" cy="120.6" r="1.85"/><circle cx="471.9" cy="120.5" r="1.85"/><circle cx="472.5" cy="121.5" r="1.85"/><circle cx="473.1" cy="120.1" r="1.85"/><circle cx="473.8" cy="119.4" r="1.85"/><circle cx="474.4" cy="121.0" r="1.85"/><circle cx="475.0" cy="121.9" r="1.85"/><circle cx="475.6" cy="123.5" r="1.85"/><circle cx="476.2" cy="124.4" r="1.85"/><circle cx="477.0" cy="125.7" r="1.85"/><circle cx="477.8" cy="126.0" r="1.85"/><circle cx="478.4" cy="126.4" r="1.85"/><circle cx="479.0" cy="125.6" r="1.85"/><circle cx="479.6" cy="125.9" r="1.85"/><circle cx="480.2" cy="127.2" r="1.85"/><circle cx="480.9" cy="128.2" r="1.85"/><circle cx="481.5" cy="128.5" r="1.85"/><circle cx="482.1" cy="129.5" r="1.85"/><circle cx="482.8" cy="129.4" r="1.85"/><circle cx="483.4" cy="127.3" r="1.85"/><circle cx="484.0" cy="126.2" r="1.85"/><circle cx="484.8" cy="127.3" r="1.85"/><circle cx="485.6" cy="127.2" r="1.85"/><circle cx="486.2" cy="128.7" r="1.85"/><circle cx="486.9" cy="129.0" r="1.85"/><circle cx="487.7" cy="129.6" r="1.85"/><circle cx="488.5" cy="129.0" r="1.85"/><circle cx="489.1" cy="130.5" r="1.85"/><circle cx="489.8" cy="131.2" r="1.85"/><circle cx="490.4" cy="131.4" r="1.85"/><circle cx="491.0" cy="132.8" r="1.85"/><circle cx="491.8" cy="132.1" r="1.85"/><circle cx="492.5" cy="132.5" r="1.85"/><circle cx="493.5" cy="135.6" r="1.85"/><circle cx="494.4" cy="138.1" r="1.85"/><circle cx="495.2" cy="132.5" r="1.85"/><circle cx="496.1" cy="130.8" r="1.85"/><circle cx="496.9" cy="129.8" r="1.85"/><circle cx="497.5" cy="131.0" r="1.85"/><circle cx="498.1" cy="131.5" r="1.85"/><circle cx="498.8" cy="131.8" r="1.85"/><circle cx="499.4" cy="133.1" r="1.85"/><circle cx="500.0" cy="134.4" r="1.85"/><circle cx="500.6" cy="136.9" r="1.85"/><circle cx="501.5" cy="139.0" r="1.85"/><circle cx="502.3" cy="139.1" r="1.85"/><circle cx="503.1" cy="138.1" r="1.85"/><circle cx="503.9" cy="138.9" r="1.85"/><circle cx="504.8" cy="138.5" r="1.85"/><circle cx="505.5" cy="137.3" r="1.85"/><circle cx="506.2" cy="136.9" r="1.85"/><circle cx="507.0" cy="136.0" r="1.85"/><circle cx="507.8" cy="136.2" r="1.85"/><circle cx="508.4" cy="134.9" r="1.85"/><circle cx="509.0" cy="134.8" r="1.85"/><circle cx="509.6" cy="137.1" r="1.85"/><circle cx="510.2" cy="138.8" r="1.85"/><circle cx="510.9" cy="136.3" r="1.85"/><circle cx="511.5" cy="135.0" r="1.85"/><circle cx="512.3" cy="134.6" r="1.85"/><circle cx="513.1" cy="135.2" r="1.85"/><circle cx="513.9" cy="134.2" r="1.85"/><circle cx="514.8" cy="132.5" r="1.85"/><circle cx="515.5" cy="131.8" r="1.85"/><circle cx="516.2" cy="131.9" r="1.85"/><circle cx="516.9" cy="132.1" r="1.85"/><circle cx="517.5" cy="131.2" r="1.85"/><circle cx="518.1" cy="128.7" r="1.85"/><circle cx="518.8" cy="126.9" r="1.85"/><circle cx="519.5" cy="126.9" r="1.85"/><circle cx="520.2" cy="126.2" r="1.85"/><circle cx="521.1" cy="126.3" r="1.85"/><circle cx="521.9" cy="125.6" r="1.85"/><circle cx="522.7" cy="125.4" r="1.85"/><circle cx="523.5" cy="124.0" r="1.85"/><circle cx="524.2" cy="124.0" r="1.85"/><circle cx="525.0" cy="124.8" r="1.85"/><circle cx="525.8" cy="125.4" r="1.85"/><circle cx="526.5" cy="125.0" r="1.85"/><circle cx="527.1" cy="124.8" r="1.85"/><circle cx="527.8" cy="124.0" r="1.85"/><circle cx="528.6" cy="123.9" r="1.85"/><circle cx="529.4" cy="122.8" r="1.85"/><circle cx="530.0" cy="124.2" r="1.85"/><circle cx="530.6" cy="125.0" r="1.85"/><circle cx="531.2" cy="130.0" r="1.85"/><circle cx="532.2" cy="124.4" r="1.85"/><circle cx="533.0" cy="123.0" r="1.85"/><circle cx="533.8" cy="122.8" r="1.85"/><circle cx="534.4" cy="123.9" r="1.85"/><circle cx="535.0" cy="124.4" r="1.85"/><circle cx="535.6" cy="126.0" r="1.85"/><circle cx="536.2" cy="126.9" r="1.85"/><circle cx="537.0" cy="127.3" r="1.85"/><circle cx="537.8" cy="128.5" r="1.85"/><circle cx="538.6" cy="128.6" r="1.85"/><circle cx="539.4" cy="129.8" r="1.85"/><circle cx="540.2" cy="129.9" r="1.85"/><circle cx="541.0" cy="129.0" r="1.85"/><circle cx="541.6" cy="129.5" r="1.85"/><circle cx="542.2" cy="129.4" r="1.85"/><circle cx="543.1" cy="132.2" r="1.85"/><circle cx="543.8" cy="133.1" r="1.85"/><circle cx="544.4" cy="135.0" r="1.85"/><circle cx="545.0" cy="137.8" r="1.85"/><circle cx="545.6" cy="136.6" r="1.85"/><circle cx="546.2" cy="134.4" r="1.85"/><circle cx="547.0" cy="133.8" r="1.85"/><circle cx="547.8" cy="134.0" r="1.85"/><circle cx="548.4" cy="134.3" r="1.85"/><circle cx="549.0" cy="135.6" r="1.85"/><circle cx="549.8" cy="143.1" r="1.85"/><circle cx="550.4" cy="142.4" r="1.85"/><circle cx="551.0" cy="140.6" r="1.85"/><circle cx="551.6" cy="139.0" r="1.85"/><circle cx="552.2" cy="138.1" r="1.85"/><circle cx="552.9" cy="139.6" r="1.85"/><circle cx="553.5" cy="140.0" r="1.85"/><circle cx="554.4" cy="136.2" r="1.85"/><circle cx="555.0" cy="129.4" r="1.85"/><circle cx="555.8" cy="127.2" r="1.85"/><circle cx="556.5" cy="125.6" r="1.85"/><circle cx="557.5" cy="120.0" r="1.85"/><circle cx="558.2" cy="118.8" r="1.85"/><circle cx="559.0" cy="121.9" r="1.85"/><circle cx="560.0" cy="124.4" r="1.85"/><circle cx="560.8" cy="124.9" r="1.85"/><circle cx="561.5" cy="124.4" r="1.85"/><circle cx="562.3" cy="125.5" r="1.85"/><circle cx="563.1" cy="126.0" r="1.85"/><circle cx="564.1" cy="126.5" r="1.85"/><circle cx="565.0" cy="126.0" r="1.85"/><circle cx="565.9" cy="125.6" r="1.85"/><circle cx="566.9" cy="126.2" r="1.85"/><circle cx="567.8" cy="126.3" r="1.85"/><circle cx="568.8" cy="125.6" r="1.85"/><circle cx="569.4" cy="126.6" r="1.85"/><circle cx="570.0" cy="126.9" r="1.85"/><circle cx="571.0" cy="129.0" r="1.85"/><circle cx="571.8" cy="128.9" r="1.85"/><circle cx="572.5" cy="127.8" r="1.85"/><circle cx="573.2" cy="128.9" r="1.85"/><circle cx="574.0" cy="129.0" r="1.85"/><circle cx="574.6" cy="130.4" r="1.85"/><circle cx="575.2" cy="130.6" r="1.85"/><circle cx="576.1" cy="131.4" r="1.85"/><circle cx="576.9" cy="131.5" r="1.85"/><circle cx="577.7" cy="131.4" r="1.85"/><circle cx="578.5" cy="130.6" r="1.85"/><circle cx="579.1" cy="131.3" r="1.85"/><circle cx="579.8" cy="132.8" r="1.85"/><circle cx="580.4" cy="133.9" r="1.85"/><circle cx="581.0" cy="134.4" r="1.85"/><circle cx="581.8" cy="134.9" r="1.85"/><circle cx="582.5" cy="134.4" r="1.85"/><circle cx="583.5" cy="134.0" r="1.85"/></g>
<text id="title" y="24" font-size="18" fill="#2b2b2b" stroke="#2b2b2b" stroke-width="0.3"><tspan x="47.80" textLength="36.25" lengthAdjust="spacingAndGlyphs">LFS:</tspan> <tspan x="91.34" textLength="83.15" lengthAdjust="spacingAndGlyphs">Economic</tspan> <tspan x="180.45" textLength="81.95" lengthAdjust="spacingAndGlyphs">inactivity</tspan> <tspan x="267.69" textLength="41.57" lengthAdjust="spacingAndGlyphs">rate:</tspan> <tspan x="316.03" textLength="30.53" lengthAdjust="spacingAndGlyphs">UK:</tspan> <tspan x="352.55" textLength="28.10" lengthAdjust="spacingAndGlyphs">All:</tspan> <tspan x="386.41" textLength="46.25" lengthAdjust="spacingAndGlyphs">Aged</tspan> <tspan x="438.36" textLength="56.57" lengthAdjust="spacingAndGlyphs">25-34:</tspan> <tspan x="500.45" textLength="23.17" lengthAdjust="spacingAndGlyphs">%:</tspan> <tspan x="529.09" textLength="24.08" lengthAdjust="spacingAndGlyphs">SA</tspan></text>
<g class="ax"><text x="24" y="50.7" text-anchor="end">20</text><text x="24" y="107" text-anchor="end">15</text><text x="24" y="164" text-anchor="end">10</text><text x="24" y="221" text-anchor="end">5</text><text x="24" y="278" text-anchor="end">0</text><text x="9.5" y="36" style="font-size:12px">%</text></g>
<g class="ax"><text x="41.7" y="289.5" text-anchor="end" transform="rotate(-45 41.7 289.5)" textLength="43.8" lengthAdjust="spacing">1992 …</text><text x="178.3" y="289.5" text-anchor="end" transform="rotate(-45 178.3 289.5)" textLength="74.7" lengthAdjust="spacing">2000 JUL-SEP</text><text x="314.6" y="289.7" text-anchor="end" transform="rotate(-45 314.6 289.7)" textLength="78.1" lengthAdjust="spacing">2008 NOV-JAN</text><text x="450.8" y="290.2" text-anchor="end" transform="rotate(-45 450.8 290.2)" textLength="79.7" lengthAdjust="spacing">2017 MAR-MAY</text><text x="585.0" y="289.8" text-anchor="end" transform="rotate(-45 585.0 289.8)" textLength="74.7" lengthAdjust="spacing">2025 MAY-JUL</text></g>
<g>
<path d="M 95 374 L 111 374" stroke="#007DC3" stroke-width="2" fill="none"/>
<circle cx="103" cy="374" r="2" fill="#007DC3"/>
<text id="legend" y="378" font-size="12" font-weight="bold" fill="#333333"><tspan x="116.00" textLength="29.80" lengthAdjust="spacingAndGlyphs">LFS:</tspan> <tspan x="150.70" textLength="64.86" lengthAdjust="spacingAndGlyphs">Economic</tspan> <tspan x="219.20" textLength="64.25" lengthAdjust="spacingAndGlyphs">inactivity</tspan> <tspan x="287.60" textLength="33.23" lengthAdjust="spacingAndGlyphs">rate:</tspan> <tspan x="325.47" textLength="24.30" lengthAdjust="spacingAndGlyphs">UK:</tspan> <tspan x="353.73" textLength="22.55" lengthAdjust="spacingAndGlyphs">All:</tspan> <tspan x="380.47" textLength="35.14" lengthAdjust="spacingAndGlyphs">Aged</tspan> <tspan x="420.25" textLength="42.80" lengthAdjust="spacingAndGlyphs">25-34:</tspan> <tspan x="467.11" textLength="16.84" lengthAdjust="spacingAndGlyphs">%:</tspan> <tspan x="487.36" textLength="17.60" lengthAdjust="spacingAndGlyphs">SA</tspan></text>
</g>
<text id="source" x="542" y="395" font-size="12" fill="#666666" textLength="46.7" lengthAdjust="spacing">Source:</text>
</svg>
</body></html>
